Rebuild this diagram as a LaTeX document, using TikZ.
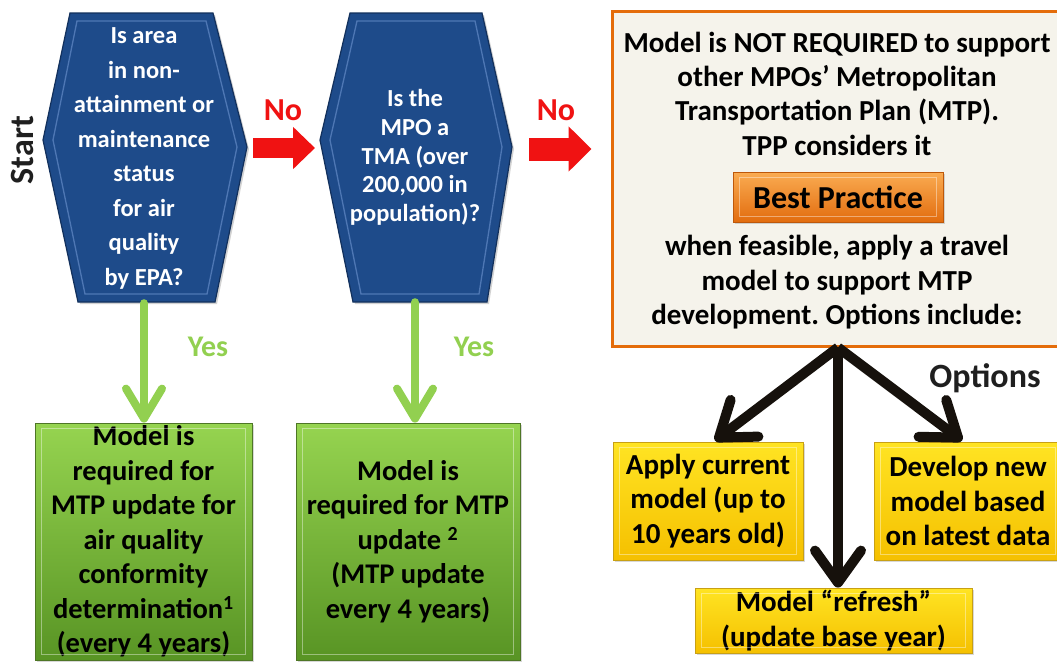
\documentclass[tikz,border=0pt]{standalone}
\usepackage{fontspec}
\setmainfont{Carlito}
\frenchspacing
\usetikzlibrary{arrows.meta,calc,shadows}
\definecolor{hexblue}{RGB}{30,75,138}
\definecolor{hexedge}{RGB}{18,48,92}
\definecolor{hexlight}{RGB}{95,135,195}
\definecolor{greentop}{RGB}{150,212,80}
\definecolor{greenbot}{RGB}{88,148,36}
\definecolor{greenedge}{RGB}{78,118,38}
\definecolor{yesgreen}{RGB}{146,208,80}
\definecolor{arrred}{RGB}{240,18,18}
\definecolor{boxorange}{RGB}{228,108,10}
\definecolor{boxfill}{RGB}{245,243,235}
\definecolor{yeltop}{RGB}{255,228,35}
\definecolor{yelbot}{RGB}{245,192,0}
\definecolor{yeledge}{RGB}{200,160,20}
\definecolor{bptop}{RGB}{250,172,82}
\definecolor{bpbot}{RGB}{226,108,14}
\definecolor{bpedge}{RGB}{190,88,10}
\definecolor{arrblack}{RGB}{22,17,12}
\tikzset{
  hexshape/.style={fill=hexblue, draw=hexedge, line width=1.2pt,
    drop shadow={opacity=0.35, shadow xshift=2pt, shadow yshift=-2pt}},
  hexbevel/.style={draw=hexlight, line width=1.3pt, opacity=0.75},
  hextext/.style={text=white, align=center, inner sep=0pt},
  greenbox/.style={draw=greenedge, line width=0.8pt, top color=greentop, bottom color=greenbot,
    align=center, inner sep=0pt, font=\bfseries\fontsize{28.5}{34.5}\selectfont,
    drop shadow={opacity=0.3, shadow xshift=2pt, shadow yshift=-2pt}},
  yelbox/.style={draw=yeledge, line width=0.8pt, top color=yeltop, bottom color=yelbot,
    align=center, inner sep=0pt, font=\bfseries\fontsize{29}{34.5}\selectfont,
    drop shadow={opacity=0.3, shadow xshift=2pt, shadow yshift=-2pt}},
  bestbox/.style={draw=bpedge, line width=0.8pt, top color=bptop, bottom color=bpbot,
    inner sep=0pt, font=\bfseries\fontsize{32}{36}\selectfont,
    drop shadow={opacity=0.3, shadow xshift=2pt, shadow yshift=-2pt}},
  mainbox/.style={draw=boxorange, line width=3pt, fill=boxfill, inner sep=0pt,
    drop shadow={opacity=0.25, shadow xshift=2pt, shadow yshift=-2pt}},
  boxtext/.style={align=center, inner sep=0pt, font=\bfseries\fontsize{29}{34.3}\selectfont},
  bevelline/.style={draw=white, line width=1.2pt, opacity=0.4},
  redarrow/.style={draw=arrred, line width=#1},
  greenarrow/.style={draw=yesgreen, line width=8pt, line cap=round,
    -{Straight Barb[length=30pt,width=36pt,round]}},
  blackarrow/.style={draw=arrblack, line width=10pt,
    -{Straight Barb[length=32pt,width=46pt,round]}},
  nolabel/.style={text=arrred, inner sep=0pt, font=\bfseries\fontsize{32}{36}\selectfont},
  yeslabel/.style={text=yesgreen, inner sep=0pt, font=\bfseries\fontsize{30}{34}\selectfont},
  biglabel/.style={text=black!88, inner sep=0pt, font=\bfseries\fontsize{34}{38}\selectfont}
}
\begin{document}
\begin{tikzpicture}[x=1pt,y=-1pt]
\clip (0,0) rectangle (1057,662);
\fill[white] (0,0) rectangle (1057,662);

% hexagons
\path[hexshape] (70,13) -- (213,13) -- (247,147) -- (215,302) -- (78,302) -- (43,140) -- cycle;
\path[hexbevel] (77,21) -- (206,21) -- (237,147) -- (207,294) -- (85,294) -- (53,140) -- cycle;
\path[hexshape] (350,13) -- (482,13) -- (512,147) -- (487,302) -- (353,302) -- (320,140) -- cycle;
\path[hexbevel] (357,21) -- (475,21) -- (502,147) -- (479,294) -- (361,294) -- (330,140) -- cycle;
\coordinate (h1r) at (247,148);
\coordinate (h2l) at (320,148);
\coordinate (h2r) at (512,149);

\node[hextext, minimum width=140pt, minimum height=289pt,
  font=\bfseries\fontsize{24.5}{34.5}\selectfont] (hex1) at (144,158.5)
  {Is area\\in non-\\attainment or\\maintenance\\status\\for air\\quality\\by EPA?};
\node[hextext, minimum width=130pt, minimum height=289pt,
  font=\bfseries\fontsize{24.5}{28.7}\selectfont] (hex2) at (415,157.5)
  {Is the\\MPO a\\TMA (over\\200,000 in\\population)?};

\node[biglabel, rotate=90] (start) at (22,150) {Start};

% right box
\node[mainbox, minimum width=452pt, minimum height=335pt] (rbox) at (838,178.5) {};
\node[boxtext] (rtop) at (837,93.5)
  {Model is NOT REQUIRED to support\\other MPOs’ Metropolitan\\Transportation Plan (MTP).\\TPP considers it};
\node[bestbox, minimum width=210pt, minimum height=50pt] (best) at (838,197) {Best Practice};
\node[boxtext, font=\bfseries\fontsize{29}{34.5}\selectfont] (rbot) at (837,282.5)
  {when feasible, apply a travel\\model to support MTP\\development. Options include:};

% green boxes
\node[greenbox, minimum width=217pt, minimum height=237pt] (gbox1) at (143.5,541.5)
  {Model is\\required for\\MTP update for\\air quality\\conformity\\determination\textsuperscript{1}\\(every 4 years)};
\node[greenbox, minimum width=224pt, minimum height=237pt] (gbox2) at (408,541.5)
  {Model is\\required for MTP\\update \textsuperscript{2}\\(MTP update\\every 4 years)};

% yellow boxes
\node[yelbox, minimum width=190pt, minimum height=118pt] (apply) at (708,501)
  {Apply current\\model (up to\\10 years old)};
\node[yelbox, minimum width=188pt, minimum height=118pt] (develop) at (968,501)
  {Develop new\\model based\\on latest data};
\node[yelbox, minimum width=277pt, minimum height=65pt] (refresh) at (833.5,620.5)
  {Model “refresh”\\(update base year)};

\foreach \n in {gbox1,gbox2,apply,develop,refresh,best}
  \draw[bevelline] ($(\n.north west)+(7,6)$) rectangle ($(\n.south east)+(-7,-6)$);

% labels
\node[nolabel] (no1) at (283,110) {No};
\node[nolabel] (no2) at (556,110) {No};
\node[yeslabel] (yes1) at (208,347) {Yes};
\node[yeslabel] (yes2) at (474,347) {Yes};
\node[biglabel] (opts) at (985,378) {Options};

% connectors
\draw[redarrow=20pt, shorten <=6pt, shorten >=5pt, -{Triangle[length=22pt,width=41pt]}] (h1r) -- (h2l);
\draw[redarrow=23pt, shorten <=17pt, shorten >=19pt, -{Triangle[length=23pt,width=44pt]}] (h2r) -- (rbox.west |- h2r);
\draw[greenarrow] (hex1.south) -- (hex1.south |- gbox1.north);
\draw[greenarrow] (hex2.south) -- (hex2.south |- gbox2.north);
\draw[blackarrow] (rbox.south) -- ($(apply.north)+(7,-1)$);
\draw[blackarrow] (rbox.south) -- (rbox.south |- refresh.north);
\draw[blackarrow] (rbox.south) -- ($(develop.north)+(-6,-1)$);
\end{tikzpicture}
\end{document}
